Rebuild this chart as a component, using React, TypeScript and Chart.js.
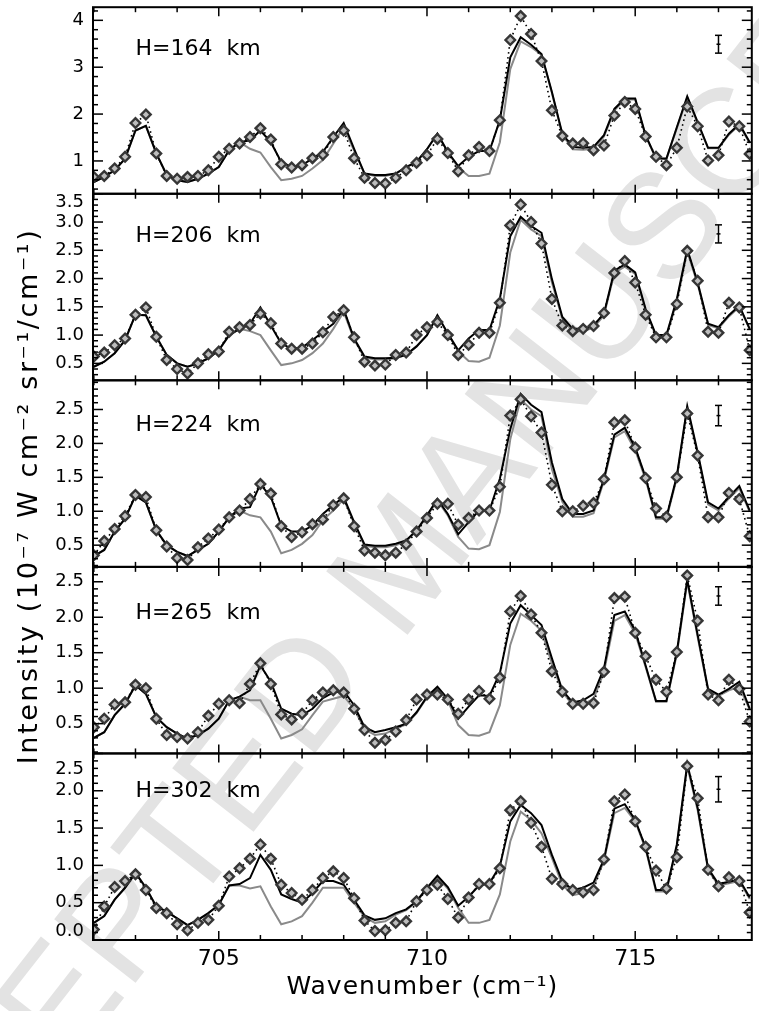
import React, { useEffect, useRef } from 'react';
import { Chart, registerables } from 'chart.js';

Chart.register(...registerables);

// ---------- data ----------
const WAVENUMBER = [
  702, 702.25, 702.5, 702.75, 703, 703.25, 703.5, 703.75, 704, 704.25, 704.5, 704.75,
  705, 705.25, 705.5, 705.75, 706, 706.25, 706.5, 706.75, 707, 707.25, 707.5, 707.75,
  708, 708.25, 708.5, 708.75, 709, 709.25, 709.5, 709.75, 710, 710.25, 710.5, 710.75,
  711, 711.25, 711.5, 711.75, 712, 712.25, 712.5, 712.75, 713, 713.25, 713.5, 713.75,
  714, 714.25, 714.5, 714.75, 715, 715.25, 715.5, 715.75, 716, 716.25, 716.5, 716.75,
  717, 717.25, 717.5, 717.75,
];

const PANEL_LABELS = ['H=164  km', 'H=206  km', 'H=224  km', 'H=265  km', 'H=302  km'];

// observed (diamonds)
const OBS_164 = [
  0.66, 0.68, 0.84, 1.09, 1.81, 1.99, 1.16, 0.68, 0.62, 0.66,
  0.68, 0.80, 1.09, 1.26, 1.37, 1.51, 1.70, 1.46, 0.93, 0.86,
  0.91, 1.06, 1.13, 1.51, 1.65, 1.06, 0.64, 0.53, 0.52, 0.64,
  0.80, 0.96, 1.12, 1.47, 1.17, 0.78, 1.12, 1.30, 1.21, 1.87,
  3.58, 4.09, 3.71, 3.13, 2.08, 1.53, 1.37, 1.38, 1.23, 1.33,
  1.97, 2.26, 2.11, 1.52, 1.09, 0.91, 1.28, 2.16, 1.74, 1.01,
  1.12, 1.84, 1.74, 1.15,
];
const MODEL_164 = [
  0.55, 0.66, 0.80, 1.05, 1.65, 1.75, 1.16, 0.70, 0.59, 0.55,
  0.62, 0.73, 0.87, 1.23, 1.40, 1.44, 1.65, 1.40, 0.98, 0.87,
  0.91, 1.05, 1.19, 1.51, 1.81, 1.26, 0.73, 0.70, 0.70, 0.73,
  0.87, 0.98, 1.25, 1.58, 1.19, 0.89, 1.09, 1.21, 1.21, 1.87,
  3.21, 3.64, 3.48, 3.28, 2.47, 1.58, 1.30, 1.28, 1.30, 1.55,
  2.11, 2.33, 2.33, 1.55, 1.06, 1.05, 1.72, 2.38, 1.83, 1.28,
  1.28, 1.58, 1.79, 1.40,
];
const GRAY_164 = [
  0.55, 0.66, 0.80, 1.05, 1.65, 1.75, 1.16, 0.70, 0.59, 0.55,
  0.62, 0.73, 0.87, 1.23, 1.40, 1.26, 1.18, 0.87, 0.59, 0.62,
  0.68, 0.84, 1.02, 1.37, 1.72, 1.22, 0.73, 0.68, 0.68, 0.73,
  0.87, 0.98, 1.25, 1.58, 1.19, 0.86, 0.68, 0.68, 0.73, 1.40,
  2.96, 3.55, 3.43, 3.26, 2.45, 1.56, 1.25, 1.24, 1.26, 1.52,
  2.08, 2.31, 2.31, 1.53, 1.05, 1.04, 1.70, 2.35, 1.80, 1.27,
  1.27, 1.56, 1.77, 1.38,
];

const OBS_206 = [
  0.62, 0.69, 0.82, 0.94, 1.36, 1.49, 0.97, 0.56, 0.40, 0.32,
  0.50, 0.66, 0.71, 1.06, 1.14, 1.18, 1.38, 1.21, 0.85, 0.76,
  0.76, 0.85, 1.05, 1.32, 1.44, 0.96, 0.53, 0.46, 0.48, 0.65,
  0.69, 1.00, 1.14, 1.23, 1.00, 0.65, 0.83, 1.04, 1.04, 1.57,
  2.94, 3.31, 3.00, 2.62, 1.64, 1.17, 1.07, 1.11, 1.16, 1.39,
  2.10, 2.31, 1.93, 1.36, 0.96, 0.96, 1.55, 2.49, 1.96, 1.06,
  1.04, 1.57, 1.49, 0.73,
];
const MODEL_206 = [
  0.44, 0.53, 0.68, 0.91, 1.36, 1.35, 0.97, 0.65, 0.50, 0.44,
  0.50, 0.59, 0.73, 1.00, 1.11, 1.20, 1.49, 1.17, 0.85, 0.76,
  0.78, 0.91, 1.06, 1.20, 1.46, 0.94, 0.62, 0.59, 0.59, 0.60,
  0.65, 0.80, 1.00, 1.35, 1.03, 0.73, 0.94, 1.09, 1.09, 1.64,
  2.75, 3.09, 2.93, 2.81, 1.99, 1.32, 1.11, 1.11, 1.17, 1.38,
  2.14, 2.25, 2.11, 1.46, 1.00, 1.00, 1.64, 2.52, 1.93, 1.20,
  1.14, 1.35, 1.52, 1.11,
];
const GRAY_206 = [
  0.44, 0.53, 0.68, 0.91, 1.36, 1.35, 0.97, 0.65, 0.50, 0.44,
  0.50, 0.59, 0.73, 1.00, 1.11, 1.07, 1.00, 0.73, 0.47, 0.50,
  0.56, 0.68, 0.85, 1.11, 1.41, 0.92, 0.60, 0.57, 0.57, 0.59,
  0.65, 0.80, 1.00, 1.35, 1.03, 0.71, 0.54, 0.53, 0.60, 1.17,
  2.46, 3.04, 2.87, 2.75, 1.93, 1.29, 1.07, 1.07, 1.13, 1.35,
  2.10, 2.21, 2.08, 1.44, 0.98, 0.98, 1.60, 2.48, 1.90, 1.18,
  1.12, 1.33, 1.50, 1.10,
];

const OBS_224 = [
  0.35, 0.56, 0.74, 0.93, 1.24, 1.21, 0.72, 0.48, 0.31, 0.28,
  0.47, 0.60, 0.73, 0.91, 1.01, 1.18, 1.40, 1.26, 0.78, 0.62,
  0.69, 0.81, 0.88, 1.09, 1.19, 0.78, 0.42, 0.39, 0.35, 0.39,
  0.51, 0.70, 0.90, 1.11, 1.11, 0.80, 0.90, 1.01, 1.01, 1.36,
  2.41, 2.65, 2.40, 2.16, 1.39, 1.00, 1.00, 1.08, 1.12, 1.47,
  2.31, 2.34, 1.94, 1.49, 1.04, 0.92, 1.50, 2.44, 1.82, 0.91,
  0.91, 1.27, 1.18, 0.63,
];
const MODEL_224 = [
  0.34, 0.43, 0.70, 0.89, 1.23, 1.13, 0.72, 0.50, 0.40, 0.34,
  0.43, 0.52, 0.70, 0.91, 1.04, 1.06, 1.40, 1.21, 0.79, 0.70,
  0.70, 0.79, 0.96, 1.09, 1.21, 0.84, 0.51, 0.49, 0.49, 0.52,
  0.57, 0.72, 0.94, 1.18, 0.96, 0.66, 0.84, 1.01, 1.01, 1.48,
  2.21, 2.73, 2.57, 2.46, 1.72, 1.18, 0.96, 0.96, 1.01, 1.48,
  2.13, 2.23, 1.94, 1.50, 0.91, 0.91, 1.52, 2.55, 1.87, 1.13,
  1.04, 1.21, 1.37, 1.01,
];
const GRAY_224 = [
  0.34, 0.43, 0.70, 0.89, 1.23, 1.13, 0.72, 0.50, 0.40, 0.34,
  0.43, 0.52, 0.70, 0.91, 1.01, 0.94, 0.91, 0.70, 0.38, 0.43,
  0.52, 0.65, 0.87, 1.01, 1.18, 0.82, 0.49, 0.47, 0.47, 0.50,
  0.56, 0.71, 0.93, 1.16, 0.94, 0.62, 0.45, 0.44, 0.50, 0.99,
  2.06, 2.65, 2.50, 2.40, 1.62, 1.14, 0.92, 0.92, 0.97, 1.45,
  2.09, 2.18, 1.90, 1.47, 0.89, 0.89, 1.49, 2.52, 1.84, 1.10,
  1.01, 1.19, 1.34, 0.99,
];

const OBS_265 = [
  0.45, 0.57, 0.77, 0.80, 1.05, 1.00, 0.57, 0.34, 0.31, 0.29,
  0.38, 0.61, 0.78, 0.83, 0.79, 1.06, 1.35, 1.06, 0.63, 0.56,
  0.64, 0.83, 0.94, 0.97, 0.94, 0.71, 0.41, 0.23, 0.27, 0.39,
  0.55, 0.84, 0.91, 0.91, 0.84, 0.64, 0.84, 0.96, 0.85, 1.15,
  2.08, 2.30, 2.04, 1.78, 1.24, 0.95, 0.78, 0.78, 0.79, 1.23,
  2.27, 2.29, 1.78, 1.45, 1.12, 0.95, 1.51, 2.59, 1.95, 0.91,
  0.83, 1.12, 0.99, 0.53,
];
const MODEL_265 = [
  0.30, 0.38, 0.62, 0.78, 1.04, 0.92, 0.59, 0.45, 0.36, 0.29,
  0.34, 0.43, 0.57, 0.83, 0.88, 0.97, 1.32, 1.09, 0.71, 0.64,
  0.62, 0.71, 0.86, 0.94, 0.96, 0.76, 0.45, 0.38, 0.41, 0.45,
  0.50, 0.66, 0.88, 1.02, 0.85, 0.57, 0.74, 0.90, 0.89, 1.21,
  1.91, 2.17, 2.03, 1.89, 1.42, 0.97, 0.80, 0.83, 0.92, 1.28,
  2.03, 2.08, 1.81, 1.32, 0.82, 0.82, 1.51, 2.53, 1.75, 0.99,
  0.91, 0.99, 1.09, 0.71,
];
const GRAY_265 = [
  0.30, 0.38, 0.62, 0.78, 1.04, 0.92, 0.59, 0.45, 0.36, 0.29,
  0.34, 0.43, 0.57, 0.83, 0.88, 0.83, 0.83, 0.57, 0.29, 0.34,
  0.42, 0.62, 0.81, 0.85, 0.89, 0.71, 0.42, 0.34, 0.36, 0.43,
  0.49, 0.65, 0.87, 1.00, 0.83, 0.48, 0.34, 0.33, 0.38, 0.76,
  1.61, 2.05, 1.95, 1.81, 1.35, 0.95, 0.76, 0.77, 0.85, 1.23,
  1.95, 2.03, 1.77, 1.30, 0.81, 0.81, 1.48, 2.50, 1.72, 0.97,
  0.89, 0.97, 1.02, 0.70,
];

const OBS_302 = [
  0.14, 0.45, 0.71, 0.79, 0.88, 0.67, 0.43, 0.36, 0.21, 0.13,
  0.23, 0.27, 0.46, 0.85, 0.96, 1.09, 1.28, 1.09, 0.74, 0.63,
  0.54, 0.67, 0.83, 0.92, 0.83, 0.56, 0.26, 0.12, 0.13, 0.23,
  0.25, 0.52, 0.67, 0.74, 0.55, 0.30, 0.57, 0.75, 0.75, 0.96,
  1.74, 1.86, 1.57, 1.25, 0.82, 0.75, 0.67, 0.64, 0.67, 1.08,
  1.86, 1.95, 1.59, 1.25, 0.93, 0.69, 1.11, 2.33, 1.90, 0.94,
  0.72, 0.84, 0.79, 0.37,
];
const MODEL_302 = [
  0.23, 0.32, 0.54, 0.70, 0.90, 0.70, 0.45, 0.38, 0.29, 0.20,
  0.27, 0.36, 0.47, 0.73, 0.75, 0.83, 1.14, 0.94, 0.61, 0.55,
  0.50, 0.63, 0.79, 0.79, 0.74, 0.54, 0.33, 0.27, 0.29, 0.36,
  0.41, 0.52, 0.70, 0.86, 0.71, 0.46, 0.58, 0.73, 0.76, 0.99,
  1.59, 1.81, 1.70, 1.54, 1.14, 0.79, 0.67, 0.70, 0.77, 1.08,
  1.76, 1.82, 1.61, 1.24, 0.67, 0.67, 1.28, 2.36, 1.77, 0.96,
  0.75, 0.78, 0.81, 0.57,
];
const GRAY_302 = [
  0.23, 0.32, 0.54, 0.70, 0.90, 0.70, 0.45, 0.38, 0.29, 0.20,
  0.27, 0.36, 0.47, 0.73, 0.73, 0.69, 0.72, 0.45, 0.21, 0.25,
  0.32, 0.50, 0.70, 0.70, 0.70, 0.50, 0.31, 0.23, 0.25, 0.34,
  0.40, 0.51, 0.69, 0.84, 0.69, 0.43, 0.23, 0.23, 0.27, 0.61,
  1.32, 1.72, 1.61, 1.43, 1.10, 0.74, 0.60, 0.63, 0.72, 1.06,
  1.70, 1.77, 1.59, 1.22, 0.65, 0.65, 1.25, 2.33, 1.74, 0.94,
  0.73, 0.76, 0.79, 0.55,
];

const OBS = [OBS_164, OBS_206, OBS_224, OBS_265, OBS_302];
const MODEL = [MODEL_164, MODEL_206, MODEL_224, MODEL_265, MODEL_302];
const MODEL_GRAY = [GRAY_164, GRAY_206, GRAY_224, GRAY_265, GRAY_302];

// axes
const X_MIN = 701.98;
const X_MAX = 717.8;
const X_TICKS = [705, 710, 715];
const X_MINOR_TICKS = [702, 703, 704, 705, 706, 707, 708, 709, 710, 711, 712, 713, 714, 715, 716, 717];
const Y_MIN = [0.3, 0.2, 0.18, 0.08, 0.0];
const Y_MAX = [4.28, 3.5, 2.93, 2.71, 2.5];
const Y_TICKS = [
  [1, 2, 3, 4],
  [0.5, 1.0, 1.5, 2.0, 2.5, 3.0, 3.5],
  [0.5, 1.0, 1.5, 2.0, 2.5],
  [0.5, 1.0, 1.5, 2.0, 2.5],
  [0.0, 0.5, 1.0, 1.5, 2.0, 2.5],
];
const Y_DECIMALS = [0, 1, 1, 1, 1];
const Y_MINOR_STEP = [0.2, 0.1, 0.1, 0.1, 0.1];

// error bars and labels (data coordinates)
const ERR_X = 717;
const ERR_CENTER = [3.49, 2.79, 2.41, 2.30, 2.02];
const ERR_HALF = [0.19, 0.16, 0.15, 0.13, 0.17];
const LABEL_X = 703.0;
const LABEL_Y = [3.26, 2.65, 2.19, 1.98, 1.91];

const Y_TITLE = 'Intensity (10\u207B\u2077 W cm\u207B\u00B2 sr\u207B\u00B9/cm\u207B\u00B9)';
const X_TITLE = 'Wavenumber (cm\u207B\u00B9)';

const PANEL_IDS = ['y0', 'y1', 'y2', 'y3', 'y4'];
const FONT = '"DejaVu Sans", sans-serif';

const xy = (arr: number[]) => arr.map((v, i) => ({ x: WAVENUMBER[i], y: v }));

const panelPlugin = {
  id: 'panelDecor',
  afterDatasetsDraw(chart: any) {
    const ctx = chart.ctx;
    const xs = chart.scales.x;
    const { left, right } = chart.chartArea;
    ctx.save();
    const seg = (x1: number, y1: number, x2: number, y2: number) => {
      ctx.beginPath();
      ctx.moveTo(x1, y1);
      ctx.lineTo(x2, y2);
      ctx.stroke();
    };
    PANEL_IDS.forEach((id, i) => {
      const ys = chart.scales[id];
      const top = ys.top;
      const bottom = ys.bottom;
      ctx.strokeStyle = '#000';
      ctx.fillStyle = '#000';
      // x ticks (inward on top and bottom)
      ctx.lineWidth = 1.5;
      X_MINOR_TICKS.forEach((v) => {
        const px = xs.getPixelForValue(v);
        const len = X_TICKS.includes(v) ? 9 : 5;
        seg(px, bottom, px, bottom - len);
        seg(px, top, px, top + len);
      });
      // y ticks (inward on left and right)
      const step = Y_MINOR_STEP[i];
      const major = Y_TICKS[i][1] - Y_TICKS[i][0];
      for (let k = Math.ceil(Y_MIN[i] / step - 1e-6); k * step <= Y_MAX[i] + 1e-6; k++) {
        const v = k * step;
        const r = v / major;
        const isMajor = Math.abs(r - Math.round(r)) < 1e-6;
        const py = ys.getPixelForValue(v);
        const len = isMajor ? 10 : 5;
        seg(left, py, left + len, py);
        seg(right, py, right - len, py);
      }
      // y tick labels (edge labels kept inside their panel)
      ctx.font = `18px ${FONT}`;
      ctx.textAlign = 'right';
      ctx.textBaseline = 'middle';
      Y_TICKS[i].forEach((v) => {
        let py = ys.getPixelForValue(v);
        if (py - top < 8) py = top + (i === 4 ? 16 : 9);
        if (bottom - py < 8) py = bottom - 9;
        ctx.fillText(v.toFixed(Y_DECIMALS[i]), left - 9, py);
      });
      // frame
      ctx.lineWidth = 2;
      ctx.strokeRect(left, top, right - left, bottom - top);
      // error bar
      const ex = xs.getPixelForValue(ERR_X);
      const ey1 = ys.getPixelForValue(ERR_CENTER[i] - ERR_HALF[i]);
      const ey2 = ys.getPixelForValue(ERR_CENTER[i] + ERR_HALF[i]);
      const ec = ys.getPixelForValue(ERR_CENTER[i]);
      ctx.lineWidth = 1.5;
      seg(ex, ey1, ex, ey2);
      seg(ex - 3.5, ey1, ex + 3.5, ey1);
      seg(ex - 3.5, ey2, ex + 3.5, ey2);
      seg(ex - 2, ec, ex + 2, ec);
      // panel label
      ctx.font = `22px ${FONT}`;
      ctx.textAlign = 'left';
      ctx.textBaseline = 'alphabetic';
      ctx.fillText(PANEL_LABELS[i], xs.getPixelForValue(LABEL_X), ys.getPixelForValue(LABEL_Y[i]));
    });
    // x title
    const hasLS = 'letterSpacing' in ctx;
    ctx.font = `25px ${FONT}`;
    ctx.textAlign = 'center';
    ctx.textBaseline = 'middle';
    if (hasLS) ctx.letterSpacing = '1px';
    ctx.fillText(X_TITLE, (left + right) / 2, 987);
    // y title
    ctx.translate(30, 496);
    ctx.rotate(-Math.PI / 2);
    ctx.font = `27px ${FONT}`;
    if (hasLS) ctx.letterSpacing = '2.6px';
    ctx.fillText(Y_TITLE, 0, 0);
    if (hasLS) ctx.letterSpacing = '0px';
    ctx.restore();
  },
};

export default function App() {
  const canvasRef = useRef<HTMLCanvasElement | null>(null);

  useEffect(() => {
    const canvas = canvasRef.current;
    if (!canvas) return;

    const datasets: any[] = [];
    const scales: any = {
      x: {
        type: 'linear',
        position: 'bottom',
        min: X_MIN,
        max: X_MAX,
        grid: { display: false, drawTicks: false },
        border: { display: false },
        afterBuildTicks: (axis: any) => {
          axis.ticks = X_TICKS.map((value) => ({ value }));
        },
        afterFit: (scale: any) => {
          scale.height = 71;
          scale.paddingLeft = 0;
          scale.paddingRight = 0;
        },
        ticks: {
          color: '#000',
          font: { family: FONT, size: 22 },
          padding: 6,
          maxRotation: 0,
          autoSkip: false,
          callback: (v: any) => String(v),
        },
      },
    };

    PANEL_IDS.forEach((id, i) => {
      scales[id] = {
        type: 'linear',
        position: 'left',
        stack: 'panels',
        stackWeight: 1,
        weight: 10 - i,
        min: Y_MIN[i],
        max: Y_MAX[i],
        grid: { display: false, drawTicks: false },
        border: { display: false },
        afterBuildTicks: (axis: any) => {
          axis.ticks = Y_TICKS[i].map((value) => ({ value }));
        },
        afterFit: (scale: any) => {
          scale.width = 93;
          scale.paddingTop = 0;
          scale.paddingBottom = 0;
        },
        ticks: { display: false },
      };
      datasets.push({
        label: `model2-${id}`,
        data: xy(MODEL_GRAY[i]),
        yAxisID: id,
        borderColor: '#8a8a8a',
        borderWidth: 2,
        pointRadius: 0,
        fill: false,
        order: 3,
      });
      datasets.push({
        label: `model-${id}`,
        data: xy(MODEL[i]),
        yAxisID: id,
        borderColor: '#000',
        borderWidth: 2,
        pointRadius: 0,
        fill: false,
        order: 2,
      });
      datasets.push({
        label: `obs-${id}`,
        data: xy(OBS[i]),
        yAxisID: id,
        borderColor: '#000',
        borderWidth: 1.6,
        borderDash: [1.6, 3.4],
        pointStyle: 'rectRot',
        pointRadius: 4.8,
        pointBorderWidth: 2.4,
        pointBorderColor: '#363636',
        pointBackgroundColor: '#bdbdbd',
        fill: false,
        order: 1,
      });
    });

    const chart = new Chart(canvas, {
      type: 'line',
      data: { datasets },
      options: {
        responsive: false,
        animation: false,
        devicePixelRatio: 1,
        events: [],
        layout: { padding: { left: 0, right: 2, top: 5, bottom: 0 } },
        plugins: { legend: { display: false }, tooltip: { enabled: false } },
        scales,
      } as any,
      plugins: [panelPlugin],
    });
    return () => chart.destroy();
  }, []);

  return (
    <div style={{ position: 'absolute', left: 0, top: 0, width: 759, height: 1011, overflow: 'hidden', background: '#fff' }}>
      <div
        style={{
          position: 'absolute',
          left: 400,
          top: 560,
          transform: 'translate(-50%, -50%) rotate(-52deg)',
          whiteSpace: 'nowrap',
          fontFamily: '"Liberation Sans", Arial, sans-serif',
          fontSize: 150,
          lineHeight: 1,
          color: '#e3e3e3',
        }}
      >
        ACCEPTED MANUSCRIPT
      </div>
      <canvas ref={canvasRef} width={759} height={1011} style={{ position: 'absolute', left: 0, top: 0 }} />
    </div>
  );
}
